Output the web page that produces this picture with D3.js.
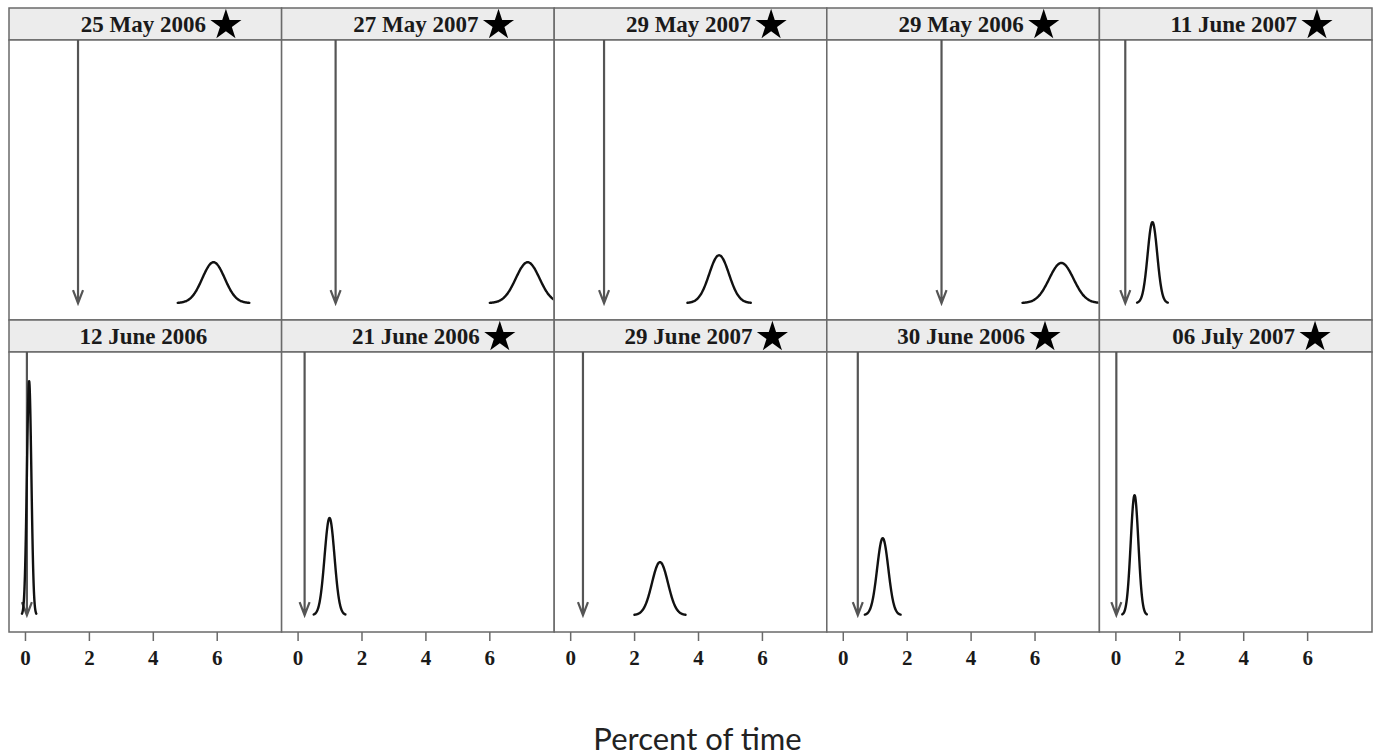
<!DOCTYPE html>
<html>
<head>
<meta charset="utf-8">
<script src="https://cdn.jsdelivr.net/npm/d3@7"></script>
<style>
  html, body { margin: 0; padding: 0; background: #fff; }
  svg { display: block; }
</style>
</head>
<body>
<svg id="chart" width="1375" height="756"></svg>
<script>
// ---- data ----
const panelDates = ["25 May 2006", "27 May 2007", "29 May 2007", "29 May 2006", "11 June 2007",
                    "12 June 2006", "21 June 2006", "29 June 2007", "30 June 2006", "06 July 2007"];
const starred = [true, true, true, true, true, false, true, true, true, true];
// observed value (arrow position, percent of time)
const arrowValues = [1.66, 1.19, 1.06, 3.09, 0.31, 0.06, 0.22, 0.40, 0.47, 0.03];
// null distribution peaks: centre, spread and height (relative density)
const peakMeans = [5.9, 7.2, 4.66, 6.84, 1.16, 0.13, 1.0, 2.81, 1.25, 0.6];
const peakSDs = [0.35, 0.37, 0.31, 0.38, 0.15, 0.07, 0.155, 0.25, 0.175, 0.12];
const peakHeights = [1.11, 1.11, 1.30, 1.09, 2.20, 6.36, 2.64, 1.44, 2.09, 3.26];
const xTicks = [0, 2, 4, 6];
const xDomain = [-0.5, 8.03];
const yDomain = [-0.46, 7.15];
const axisTitle = "Percent of time";

// ---- layout ----
const svg = d3.select("#chart");
const left = 9, right = 1372, nCols = 5;
const colW = (right - left) / nCols;
const stripH = 32;
const rowTops = [8, 320];
const panelH = 280;
const frameColor = "#6a6a6a";

const defs = svg.append("defs");

panelDates.forEach((label, i) => {
  const row = Math.floor(i / nCols), col = i % nCols;
  const x0 = left + col * colW;
  const stripTop = rowTops[row];
  const pTop = stripTop + stripH;
  const pBot = pTop + panelH;

  const x = d3.scaleLinear().domain(xDomain).range([x0, x0 + colW]);
  const y = d3.scaleLinear().domain(yDomain).range([pBot, pTop]);

  const g = svg.append("g");

  // strip
  g.append("rect").attr("x", x0).attr("y", stripTop).attr("width", colW).attr("height", stripH)
    .attr("fill", "#ececec").attr("stroke", frameColor).attr("stroke-width", 1.5);
  const t = g.append("text")
    .attr("x", x0 + colW / 2 - 2).attr("y", stripTop + stripH / 2 + 8)
    .attr("text-anchor", "middle")
    .attr("font-family", "Liberation Serif, Times New Roman, serif")
    .attr("font-weight", "bold").attr("font-size", 23)
    .attr("fill", "#1a1a1a")
    .text(label);
  if (starred[i]) {
    const w = t.node().getComputedTextLength();
    const sx = x0 + colW / 2 - 2 + w / 2 + 20;
    g.append("path")
      .attr("d", d3.symbol(d3.symbolStar, 300)())
      .attr("transform", `translate(${sx},${stripTop + stripH / 2 + 1})`)
      .attr("fill", "#000");
  }

  // panel
  g.append("rect").attr("x", x0).attr("y", pTop).attr("width", colW).attr("height", panelH)
    .attr("fill", "#fff").attr("stroke", frameColor).attr("stroke-width", 1.5);

  const clipId = "clip" + i;
  defs.append("clipPath").attr("id", clipId)
    .append("rect").attr("x", x0 + 1).attr("y", pTop).attr("width", colW - 2).attr("height", panelH);

  const inner = g.append("g").attr("clip-path", `url(#${clipId})`);

  // arrow (observed)
  const ax = x(arrowValues[i]);
  const tip = y(0);
  inner.append("path")
    .attr("d", `M${ax},${pTop} L${ax},${tip} M${ax - 5},${tip - 13} L${ax},${tip} L${ax + 5},${tip - 13}`)
    .attr("fill", "none").attr("stroke", "#555").attr("stroke-width", 2.2)
    .attr("stroke-linejoin", "miter");

  // density curve
  const m = peakMeans[i], s = peakSDs[i], h = peakHeights[i];
  const pts = d3.range(-3.2, 3.2001, 0.05).map(z => [m + z * s, h * Math.exp(-0.5 * z * z)]);
  inner.append("path")
    .datum(pts)
    .attr("d", d3.line().x(d => x(d[0])).y(d => y(d[1])).curve(d3.curveBasis))
    .attr("fill", "none").attr("stroke", "#111").attr("stroke-width", 2.4)
    .attr("stroke-linecap", "round");

  // x axis on bottom row
  if (row === 1) {
    const axis = d3.axisBottom(x).tickValues(xTicks).tickSize(9).tickPadding(9).tickFormat(d3.format("d"));
    const ag = svg.append("g").attr("transform", `translate(0,${pBot})`).call(axis);
    ag.select(".domain").remove();
    ag.selectAll(".tick line").attr("stroke", frameColor).attr("stroke-width", 1.5);
    ag.selectAll(".tick text")
      .attr("font-family", "Liberation Serif, Times New Roman, serif")
      .attr("font-weight", "bold").attr("font-size", 21).attr("fill", "#1a1a1a");
  }
});

// axis title
svg.append("text")
  .attr("x", (left + right) / 2 + 7).attr("y", 750)
  .attr("text-anchor", "middle")
  .attr("font-family", "Lato, Open Sans, sans-serif")
  .attr("font-size", 31).attr("fill", "#222")
  .text(axisTitle);
</script>
</body>
</html>
